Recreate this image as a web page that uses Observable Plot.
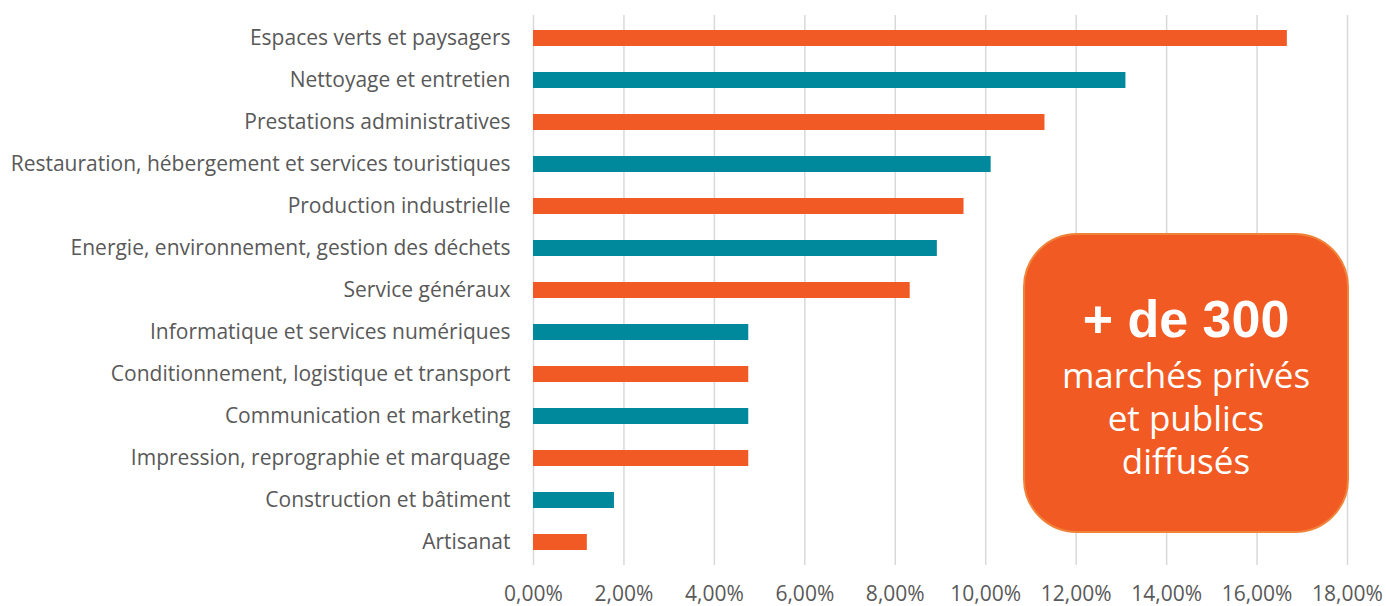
<!DOCTYPE html>
<html><head><meta charset="utf-8">
<script src="https://cdn.jsdelivr.net/npm/d3@7"></script>
<script src="https://cdn.jsdelivr.net/npm/@observablehq/plot@0.6"></script>
<style>
body{margin:0;background:#fff;}
#wrap{position:relative;width:1386px;height:606px;overflow:hidden;}
#box{position:absolute;left:1023px;top:233px;width:326px;height:300px;box-sizing:border-box;
  background:#F15A22;border:2px solid #F0833A;border-radius:54px;color:#fff;text-align:center;}
#box .big{position:absolute;left:0;right:0;top:54px;font-family:"Liberation Sans",Arial,sans-serif;font-weight:bold;font-size:52px;line-height:60px;}
#box .small{position:absolute;left:0;right:0;top:118px;font-family:"Open Sans",sans-serif;font-size:35px;line-height:43px;}
</style></head><body>
<div id="wrap"><div id="chart"></div>
<div id="box"><div class="big">+ de 300</div><div class="small">marchés privés<br>et publics<br>diffusés</div></div>
</div>
<script>
const categories = [
  "Espaces verts et paysagers",
  "Nettoyage et entretien",
  "Prestations administratives",
  "Restauration, hébergement et services touristiques",
  "Production industrielle",
  "Energie, environnement, gestion des déchets",
  "Service généraux",
  "Informatique et services numériques",
  "Conditionnement, logistique et transport",
  "Communication et marketing",
  "Impression, reprographie et marquage",
  "Construction et bâtiment",
  "Artisanat"
];
const values = [16.67, 13.10, 11.31, 10.12, 9.52, 8.93, 8.33, 4.76, 4.76, 4.76, 4.76, 1.79, 1.19];
const groups = ["A","B","A","B","A","B","A","B","A","B","A","B","A"];
const xTicks = [0, 2, 4, 6, 8, 10, 12, 14, 16, 18];
const tickLabels = ["0,00%","2,00%","4,00%","6,00%","8,00%","10,00%","12,00%","14,00%","16,00%","18,00%"];

const data = categories.map((c, i) => ({category: c, value: values[i], group: groups[i]}));

const chart = Plot.plot({
  width: 1386,
  height: 606,
  marginLeft: 533,
  marginRight: 39,
  marginTop: 15,
  marginBottom: 41,
  style: {fontFamily: "'Open Sans', sans-serif", fontSize: "21px", color: "#595959", background: "transparent"},
  x: {domain: [0, 18]},
  y: {domain: categories, paddingInner: 0.62, paddingOuter: 0.32},
  color: {domain: ["A", "B"], range: ["#F15A24", "#00889D"]},
  marks: [
    Plot.ruleX(xTicks, {stroke: "#d9d9d9", strokeWidth: 1.5}),
    Plot.barX(data, {x: "value", y: "category", fill: "group"}),
    Plot.axisX({ticks: xTicks, tickFormat: d => tickLabels[xTicks.indexOf(d)], tickSize: 0, tickPadding: 21, label: null}),
    Plot.axisY({tickSize: 0, tickPadding: 23, label: null})
  ]
});
document.getElementById("chart").appendChild(chart);
</script>
</body></html>
